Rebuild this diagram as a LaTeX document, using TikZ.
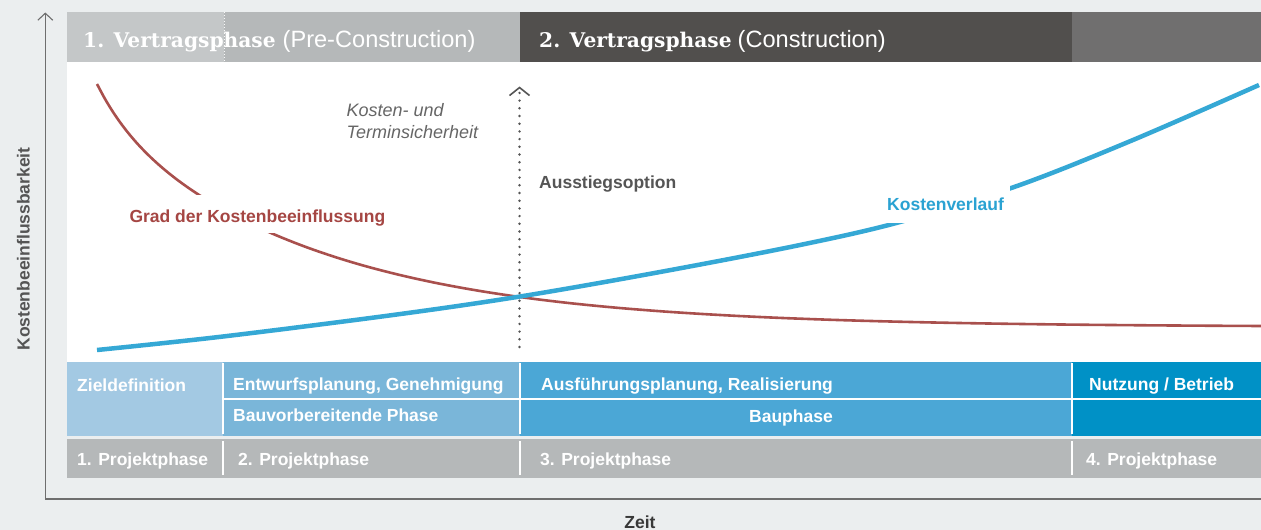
\documentclass[tikz,border=0pt]{standalone}
\usepackage{fontspec}
\setmainfont{Liberation Sans}
\newfontfamily\hdserif{DejaVu Serif}
\usetikzlibrary{arrows.meta}
\definecolor{bgc}{HTML}{EBEEEF}
\definecolor{hdA}{HTML}{C4C7C8}
\definecolor{hdB}{HTML}{B5B8B9}
\definecolor{hdC}{HTML}{514F4D}
\definecolor{hdD}{HTML}{706F6F}
\definecolor{cA}{HTML}{A3C9E3}
\definecolor{cB}{HTML}{7AB6D9}
\definecolor{cC}{HTML}{4BA7D6}
\definecolor{cD}{HTML}{0091C6}
\definecolor{grayrow}{HTML}{B5B8B9}
\definecolor{redc}{HTML}{A9504D}
\definecolor{redt}{HTML}{A54643}
\definecolor{bluec}{HTML}{35A8D5}
\definecolor{bluet}{HTML}{2AA2D2}
\definecolor{axc}{HTML}{6E6E6E}
\definecolor{txg}{HTML}{555555}
\definecolor{txi}{HTML}{666666}
\begin{document}
\begin{tikzpicture}[x=1pt,y=-1pt,
  lbl/.style={font=\fontsize{17.5}{21}\selectfont\bfseries, text=white, inner sep=0pt, anchor=base west},
  hdr/.style={inner sep=0pt, anchor=base west, text=white},
  divider/.style={white, line width=1.5pt},
  axisline/.style={axc, line width=1.2pt},
  curvered/.style={redc, line width=2.6pt},
  curveblue/.style={bluec, line width=4.5pt},
  exitline/.style={txg, line width=2.7pt, line cap=round, dash pattern=on 0pt off 7.7pt,
     -{Straight Barb[length=8pt,width=20pt,line width=1.6pt,line cap=butt]}},
]
\useasboundingbox (0,0) rectangle (1261,530);
\fill[bgc] (0,0) rectangle (1261,530);

% header band
\fill[hdA] (67,12) rectangle (224,62);
\fill[hdB] (224,12) rectangle (520,62);
\fill[hdC] (520,12) rectangle (1072,62);
\fill[hdD] (1072,12) rectangle (1261,62);
\draw[white!90!hdA, line width=1pt, dash pattern=on 1pt off 2pt] (224,12) -- (224,62);
\node[hdr] (h1) at (83,47) {{\hdserif\bfseries\fontsize{20.2}{24}\selectfont 1. Vertragsphase}\hspace{7pt}{\fontsize{23.6}{28}\selectfont (Pre-Construction)}};
\node[hdr] (h2) at (539,47) {{\hdserif\bfseries\fontsize{20.2}{24}\selectfont 2. Vertragsphase}\hspace{6pt}{\fontsize{23.6}{28}\selectfont (Construction)}};

% plot area
\fill[white] (67,62) rectangle (1261,362);

% curves
\draw[curvered] plot[domain=97:1261, samples=150, smooth] (\x, {327 - 208*exp(-0.00458*(\x-97)) - 35*exp(-0.03*(\x-97))});
\draw[curveblue] plot[smooth, tension=0.55] coordinates {(97,350) (223,336.5) (393,315) (520,296.5) (660,272) (800,245) (900,222) (1017,186) (1133,140) (1259,85)};

% curve labels (knock out the curves)
\node[lbl, text=redt, fill=white, text height=27.3pt, text depth=11pt, inner xsep=4pt] (grad) at (125.3,222.3) {Grad der Kostenbeeinflussung};
\node[lbl, text=bluet, fill=white, text height=25pt, text depth=13.3pt, inner xsep=6pt] (kv) at (881,210) {Kostenverlauf};

% exit option
\coordinate (exitBase) at (519.5,347);
\coordinate (exitTop) at (519.5,86.5);
\draw[exitline] (exitBase) -- (exitTop);
\node[lbl, text=txg] (aus) at (539,188) {Ausstiegsoption};
\node[inner sep=0pt, anchor=base west, text=txi, font=\fontsize{18}{22}\selectfont\itshape] (ks1) at (346.5,116.7) {Kosten- und};
\node[inner sep=0pt, anchor=base west, text=txi, font=\fontsize{18}{22}\selectfont\itshape] (ks2) at (346.5,138.5) {Terminsicherheit};

% table
\fill[cA] (67,362) rectangle (223,436);
\fill[cB] (223,362) rectangle (520,436);
\fill[cC] (520,362) rectangle (1072,436);
\fill[cD] (1072,362) rectangle (1261,436);
\draw[divider] (223,399) -- (1261,399);
\draw[divider] (223,363) -- (223,434);
\draw[divider] (520,363) -- (520,434);
\draw[divider] (1072,363) -- (1072,434);
\node[lbl] (zd) at (77,391.5) {Zieldefinition};
\node[lbl] (ew) at (233,390) {Entwurfsplanung, Genehmigung};
\node[lbl] (bv) at (233,421.5) {Bauvorbereitende Phase};
\node[lbl] (af) at (541,390) {Ausführungsplanung, Realisierung};
\node[lbl, anchor=base] (bp) at (791,422.5) {Bauphase};
\node[lbl] (nb) at (1089,390) {Nutzung / Betrieb};

\fill[grayrow] (67,439) rectangle (1261,477.5);
\draw[divider] (223,441) -- (223,475);
\draw[divider] (520,441) -- (520,475);
\draw[divider] (1072,441) -- (1072,475);
\node[lbl] (p1) at (77,465) {1. Projektphase};
\node[lbl] (p2) at (238,465) {2. Projektphase};
\node[lbl] (p3) at (540,465) {3. Projektphase};
\node[lbl] (p4) at (1086,465) {4. Projektphase};

% axes
\coordinate (origin) at (45.3,499);
\coordinate (ytop) at (45.3,12.5);
\coordinate (xend) at (1261,499);
\draw[axisline, -{Straight Barb[length=7pt,width=15pt,line width=1.1pt]}] (origin) -- (ytop);
\draw[axisline] (origin) -- (xend);
\node[lbl, text=txg, anchor=center, rotate=90] (ylab) at (23.3,249) {Kostenbeeinflussbarkeit};
\node[lbl, text=black!78, anchor=base] (xlab) at (640,528) {Zeit};
\end{tikzpicture}
\end{document}
